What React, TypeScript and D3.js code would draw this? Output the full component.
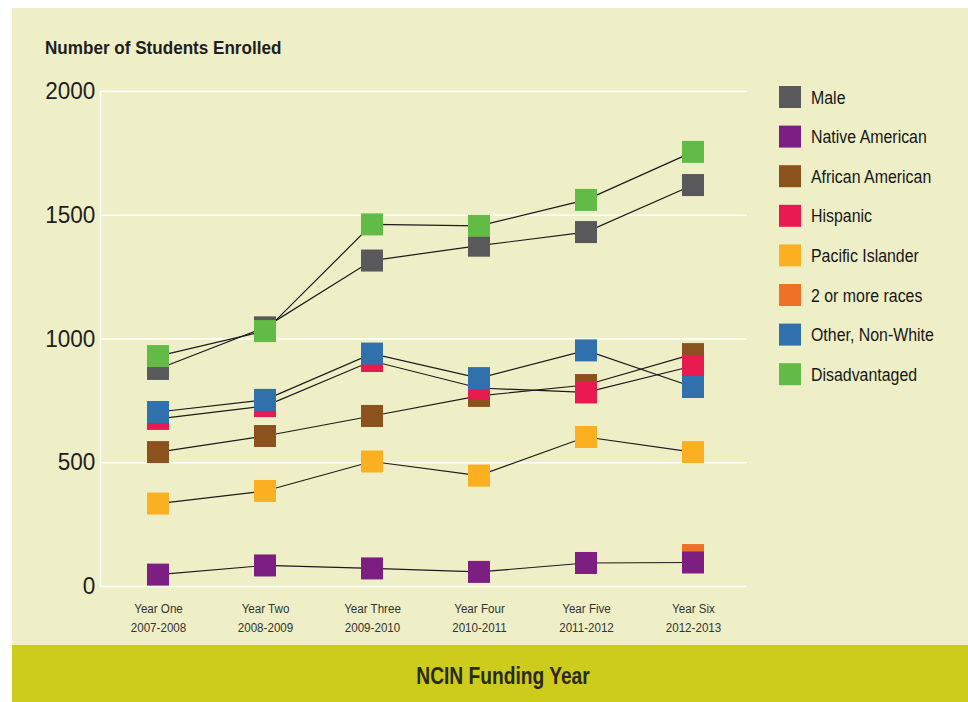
import { useEffect, useRef } from 'react';
import * as d3 from 'd3';

const years = ['Year One', 'Year Two', 'Year Three', 'Year Four', 'Year Five', 'Year Six'];
const periods = ['2007-2008', '2008-2009', '2009-2010', '2010-2011', '2011-2012', '2012-2013'];
const yTicks = [0, 500, 1000, 1500, 2000];

const male = [877, 1045, 1315, 1375, 1430, 1620];
const nativeAmerican = [46, 83, 71, 57, 93, 95];
const africanAmerican = [541, 606, 687, 768, 812, 937];
const hispanic = [675, 727, 909, 800, 782, 889];
const pacificIslander = [333, 384, 503, 446, 602, 541];
const twoOrMore = [null, null, null, null, null, 125];
const otherNonWhite = [703, 752, 939, 840, 952, 804];
const disadvantaged = [929, 1030, 1461, 1455, 1560, 1754];

interface Series {
  name: string;
  color: string;
  values: (number | null)[];
}

// legend order
const series: Series[] = [
  { name: 'Male', color: '#59585b', values: male },
  { name: 'Native American', color: '#7d1e83', values: nativeAmerican },
  { name: 'African American', color: '#8c521d', values: africanAmerican },
  { name: 'Hispanic', color: '#e91a50', values: hispanic },
  { name: 'Pacific Islander', color: '#fbb022', values: pacificIslander },
  { name: '2 or more races', color: '#ee7125', values: twoOrMore },
  { name: 'Other, Non-White', color: '#2f70ad', values: otherNonWhite },
  { name: 'Disadvantaged', color: '#62bb47', values: disadvantaged },
];

// drawing order (later squares sit on top)
const drawOrder = [
  'Male',
  '2 or more races',
  'Native American',
  'African American',
  'Hispanic',
  'Pacific Islander',
  'Other, Non-White',
  'Disadvantaged',
];

// no condensed face installed, so Liberation Sans gets squeezed horizontally
const font = "'Liberation Sans', Arial, sans-serif";

export default function App() {
  const svgRef = useRef<SVGSVGElement>(null);

  useEffect(() => {
    if (!svgRef.current) return;
    const width = 968;
    const height = 702;

    d3.select(svgRef.current).selectAll('*').remove();
    const svg = d3
      .select(svgRef.current)
      .attr('width', width)
      .attr('height', height)
      .attr('viewBox', `0 0 ${width} ${height}`)
      .style('font-family', font);

    // panel + bottom band
    svg.append('rect').attr('x', 12).attr('y', 8).attr('width', width - 12).attr('height', 637).attr('fill', '#efefc7');
    svg.append('rect').attr('x', 12).attr('y', 645).attr('width', width - 12).attr('height', height - 645).attr('fill', '#cdcb1c');

    const x = d3.scalePoint<string>().domain(years).range([104.5, 746.5]).padding(0.5);
    const y = d3.scaleLinear().domain([0, 2000]).range([586, 91]);

    // y axis with gridlines
    const yAxis = svg
      .append('g')
      .attr('transform', 'translate(100,0)')
      .call(
        d3
          .axisLeft(y)
          .tickValues(yTicks)
          .tickSize(-647)
          .tickSizeOuter(0)
          .tickPadding(5)
          .tickFormat((d) => String(d)),
      );
    yAxis.select('.domain').attr('stroke', '#ffffff').attr('stroke-width', 1.5);
    yAxis.selectAll('.tick line').attr('stroke', '#ffffff').attr('stroke-width', 1.5);
    yAxis
      .selectAll('.tick text')
      .attr('fill', '#1e1e1e')
      .attr('font-size', 24)
      .attr('font-family', font)
      .attr('x', -5)
      .attr('transform', 'scale(0.94,1)');

    // x axis labels
    const xAxis = svg
      .append('g')
      .attr('transform', 'translate(0,600)')
      .call(d3.axisBottom(x).tickSize(0).tickPadding(0));
    xAxis.select('.domain').remove();
    xAxis.selectAll('.tick text').remove();
    xAxis
      .selectAll('.tick')
      .append('text')
      .attr('text-anchor', 'middle')
      .attr('fill', '#333')
      .attr('font-size', 13.5)
      .attr('font-family', font)
      .attr('transform', 'scale(0.86,1)')
      .each(function (d) {
        const i = years.indexOf(d as string);
        const t = d3.select(this);
        t.append('tspan').attr('x', 0).attr('y', 13).text(years[i]);
        t.append('tspan').attr('x', 0).attr('y', 32).text(periods[i]);
      });

    // title
    svg
      .append('g')
      .attr('transform', 'translate(45,54) scale(0.9,1)')
      .append('text')
      .attr('font-size', 19)
      .attr('font-weight', 'bold')
      .attr('fill', '#1e1e1e')
      .text('Number of Students Enrolled');

    svg
      .append('g')
      .attr('transform', 'translate(503,684) scale(0.8,1)')
      .append('text')
      .attr('text-anchor', 'middle')
      .attr('font-size', 24)
      .attr('font-weight', 'bold')
      .attr('fill', '#2a2a1a')
      .text('NCIN Funding Year');

    const ordered = drawOrder.map((n) => series.find((s) => s.name === n)!);
    const line = d3
      .line<number | null>()
      .defined((d) => d != null)
      .x((_, i) => x(years[i])!)
      .y((d) => y(d as number));

    svg
      .append('g')
      .selectAll('path')
      .data(ordered)
      .join('path')
      .attr('d', (s) => line(s.values))
      .attr('fill', 'none')
      .attr('stroke', '#1a1a1a')
      .attr('stroke-width', 1.2);

    const size = 22;
    const marks = svg.append('g');
    ordered.forEach((s) => {
      marks
        .append('g')
        .selectAll('rect')
        .data(s.values.map((v, i) => ({ v, year: years[i] })).filter((d) => d.v != null))
        .join('rect')
        .attr('x', (d) => x(d.year)! - size / 2)
        .attr('y', (d) => y(d.v as number) - size / 2)
        .attr('width', size)
        .attr('height', size)
        .attr('fill', s.color);
    });

    // legend
    const legend = svg
      .append('g')
      .selectAll('g')
      .data(series)
      .join('g')
      .attr('transform', (_, i) => `translate(779,${97 + i * 39.6})`);
    legend
      .append('rect')
      .attr('x', 0)
      .attr('y', -11)
      .attr('width', 22)
      .attr('height', 22)
      .attr('fill', (d) => d.color);
    legend
      .append('g')
      .attr('transform', 'translate(32,6.5) scale(0.86,1)')
      .append('text')
      .attr('font-size', 18.5)
      .attr('fill', '#161616')
      .text((d) => d.name);
  }, []);

  return (
    <div style={{ position: 'absolute', left: 0, top: 0, background: '#ffffff' }}>
      <svg ref={svgRef} style={{ display: 'block' }} />
    </div>
  );
}
